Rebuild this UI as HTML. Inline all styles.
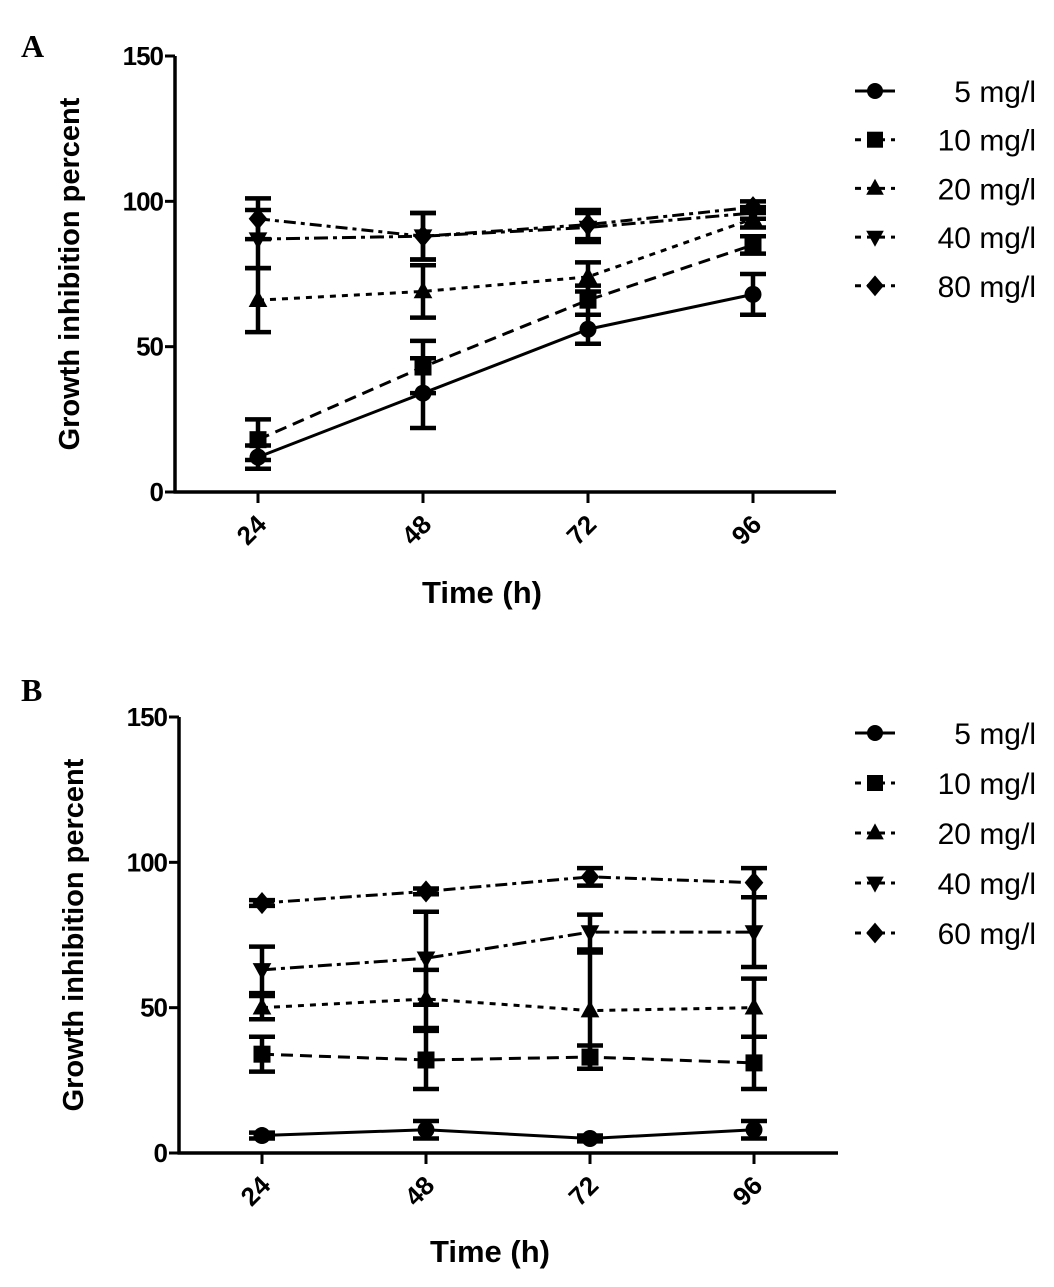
<!DOCTYPE html>
<html><head><meta charset="utf-8"><style>
body{margin:0;background:#fff}
svg{display:block;font-family:"Liberation Sans",Arial,sans-serif}
</style></head><body>
<svg id="chart" width="1054" height="1287" viewBox="0 0 1054 1287" xmlns="http://www.w3.org/2000/svg"></svg>
<script>
const categories=[24,48,72,96];
const yTicks=[0,50,100,150];
const seriesNamesA=["5 mg/l","10 mg/l","20 mg/l","40 mg/l","80 mg/l"];
const seriesNamesB=["5 mg/l","10 mg/l","20 mg/l","40 mg/l","60 mg/l"];
const a5=[12,34,56,68], a5e=[4,12,5,7];
const a10=[18,43,66,85], a10e=[7,9,5,3];
const a20=[66,69,74,94], a20e=[11,9,5,3];
const a40=[87,88,91,96], a40e=[10,8,5,2];
const a80=[94,88,92,98], a80e=[7,8,5,2];
const b5=[6,8,5,8], b5e=[1,3,1,3];
const b10=[34,32,33,31], b10e=[6,10,4,9];
const b20=[50,53,49,50], b20e=[4,10,20,10];
const b40=[63,67,76,76], b40e=[8,16,6,12];
const b60=[86,90,95,93], b60e=[1,1,3,5];

const NS="http://www.w3.org/2000/svg";
const svg=document.getElementById('chart');
function mk(tag,attrs,parent){const e=document.createElementNS(NS,tag);for(const k in attrs)e.setAttribute(k,attrs[k]);(parent||svg).appendChild(e);return e;}
const dashes=["","12,7","6,6","14,5,4,5","12,5,4,5"];
const markers=["circle","square","tri","itri","diamond"];
function marker(g,type,x,y,s){
  if(type==="circle")return mk('circle',{cx:x,cy:y,r:s},g);
  if(type==="square")return mk('rect',{x:x-s,y:y-s,width:2*s,height:2*s},g);
  if(type==="tri")return mk('polygon',{points:`${x},${y-s*1.2} ${x-s*1.1},${y+s*0.8} ${x+s*1.1},${y+s*0.8}`},g);
  if(type==="itri")return mk('polygon',{points:`${x},${y+s*1.2} ${x-s*1.1},${y-s*0.8} ${x+s*1.1},${y-s*0.8}`},g);
  return mk('polygon',{points:`${x},${y-s*1.3} ${x+s*1.1},${y} ${x},${y+s*1.3} ${x-s*1.1},${y}`},g);
}
function panel(cfg){
  const {x0,y0,y150,xs,xEnd,letter,lx,ly,series,errs,names,legY,legStep,xtitle,xtitleX,xtitleY}=cfg;
  const yS=v=>y0-(y0-y150)*v/150;
  const xS=i=>xs[0]+(xs[1]-xs[0])*i;
  const g=mk('g',{});
  
  
  const L=mk('text',{x:lx,y:ly,'font-family':'"Liberation Serif",serif','font-weight':'bold','font-size':32},g);L.textContent=letter;
  
  const ya=mk('line',{x1:x0,y1:y150,x2:x0,y2:y0+1.5,stroke:'#000','stroke-width':3.5},g);
  
  const xa=mk('line',{x1:x0-1.5,y1:y0,x2:xEnd,y2:y0,stroke:'#000','stroke-width':3.5},g);
  
  yTicks.forEach(t=>{
    mk('line',{x1:x0-10,y1:yS(t),x2:x0,y2:yS(t),stroke:'#000','stroke-width':3},g);
    const tx=mk('text',{x:x0-12,y:yS(t)+9,'text-anchor':'end','font-weight':'bold','font-size':26,'letter-spacing':-1},g);tx.textContent=t;
    
  });
  categories.forEach((c,i)=>{
    const x=xS(i);
    mk('line',{x1:x,y1:y0,x2:x,y2:y0+11,stroke:'#000','stroke-width':3},g);
    const tx=mk('text',{x:x+10,y:y0+34,'text-anchor':'end','font-weight':'bold','font-size':26,transform:`rotate(-45 ${x+10} ${y0+34})`},g);tx.textContent=c;
    
  });
  const yt=mk('text',{x:0,y:0,'text-anchor':'middle','font-weight':'bold','font-size':29,transform:`translate(${x0-96},${(y0+y150)/2}) rotate(-90)`},g);yt.textContent='Growth inhibition percent';
  
  const xt=mk('text',{x:xtitleX,y:xtitleY,'text-anchor':'middle','font-weight':'bold','font-size':31,'xml:space':'preserve'},g);xt.textContent=xtitle;
  
  series.forEach((s,k)=>{
    const sg=mk('g',{},g);
    
    
    const pts=s.map((v,i)=>xS(i)+','+yS(v)).join(' ');
    const pl=mk('polyline',{points:pts,fill:'none',stroke:'#000','stroke-width':3,'stroke-dasharray':dashes[k]},sg);
    
    s.forEach((v,i)=>{
      const x=xS(i),e=errs[k][i];
      const eb=mk('path',{d:`M${x},${yS(v+e)}V${yS(v-e)}M${x-13},${yS(v+e)}H${x+13}M${x-13},${yS(v-e)}H${x+13}`,stroke:'#000','stroke-width':4.5,fill:'none'},sg);
      
      const m=marker(sg,markers[k],x,yS(v),8.5);
      
    });
    const ly2=legY+legStep*k;
    const lg=mk('g',{},g);
    
    mk('line',{x1:855,y1:ly2,x2:895,y2:ly2,stroke:'#000','stroke-width':3,'stroke-dasharray':k?'6,6':''},lg);
    marker(lg,markers[k],875,ly2,8);
    const lt=mk('text',{x:1036,y:ly2+11,'text-anchor':'end','font-size':30},lg);lt.textContent=names[k];
  });
}
panel({x0:175,y0:492,y150:56,xs:[258,423],xEnd:836,letter:'A',lx:21,ly:57,
  series:[a5,a10,a20,a40,a80],errs:[a5e,a10e,a20e,a40e,a80e],names:seriesNamesA,
  legY:91,legStep:48.7,xtitle:'Time  (h)',xtitleX:482,xtitleY:603});
panel({x0:179,y0:1153,y150:717,xs:[262,426],xEnd:838,letter:'B',lx:21,ly:701,
  series:[b5,b10,b20,b40,b60],errs:[b5e,b10e,b20e,b40e,b60e],names:seriesNamesB,
  legY:733,legStep:50,xtitle:'Time (h)',xtitleX:490,xtitleY:1262});
</script>
</body></html>
